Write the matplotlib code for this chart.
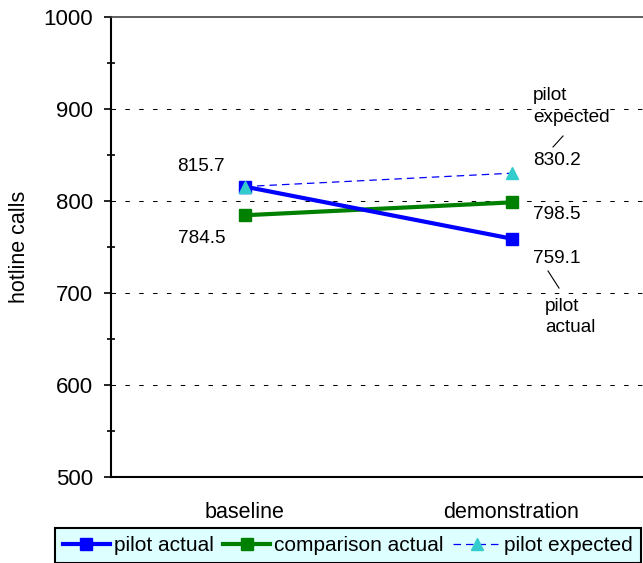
import matplotlib.pyplot as plt
from matplotlib.transforms import offset_copy
from matplotlib.lines import Line2D

plt.rcParams['font.family'] = ['Liberation Sans', 'DejaVu Sans']

periods = ['baseline', 'demonstration']
pilot_actual = [815.7, 759.1]
comparison_actual = [784.5, 798.5]
pilot_expected = [815.7, 830.2]

fig = plt.figure(figsize=(6.43, 5.63), dpi=100)
ax = fig.add_axes([111/643, 86/563, 534/643, 460/563])

xs = [0.5, 1.5]
ax.plot(xs, pilot_expected, color='blue', lw=0.9, dashes=(6, 4),
        marker='^', ms=9, mfc='#33cccc', mec='#33cccc', label='pilot expected', zorder=3)
ax.plot(xs, comparison_actual, color='green', lw=3, marker='s', ms=8,
        mfc='green', mec='green', label='comparison actual', zorder=4)
ax.plot(xs, pilot_actual, color='blue', lw=3, marker='s', ms=8,
        mfc='blue', mec='blue', label='pilot actual', zorder=5)
# triangle drawn over the blue square at baseline
ax.plot(xs[:1], pilot_expected[:1], ls='none', marker='^', ms=9,
        mfc='#33cccc', mec='#33cccc', zorder=6)

ax.set_xlim(0, 2)
ax.set_ylim(500, 1000)
ax.set_yticks(range(500, 1001, 100))
ax.set_yticks(range(550, 1000, 100), minor=True)
ax.set_xticks(xs)
ax.set_xticklabels(periods, fontsize=15.5)
ax.tick_params(axis='x', length=0, pad=18)
ax.tick_params(axis='y', which='major', direction='out', length=5, width=1.2,
               labelsize=16, pad=8)
ax.tick_params(axis='y', which='minor', direction='inout', length=6, width=1.2)

for yv in range(600, 1000, 100):
    ax.axhline(yv, color='black', lw=0.75, dashes=(4.3, 9), zorder=1)

ax.spines['right'].set_visible(False)
ax.spines['left'].set_linewidth(1.5)
ax.spines['bottom'].set_linewidth(1.5)
ax.spines['top'].set_color('#444444')
ax.spines['top'].set_linewidth(1.2)

fig.text(20/643, 1-246.5/563, 'hotline calls', rotation=90, fontsize=15.5,
         ha='center', va='center')

def lab(x, y, s, dx, dy, ha='left'):
    tr = offset_copy(ax.transData, fig=fig, x=dx, y=dy, units='points')
    ax.text(x, y, s, transform=tr, ha=ha, va='center', fontsize=13.7, linespacing=1.35)

def leader(x, y, p0, p1):
    tr0 = offset_copy(ax.transData, fig=fig, x=p0[0], y=p0[1], units='points')
    tr1 = offset_copy(ax.transData, fig=fig, x=p1[0], y=p1[1], units='points')
    a = tr0.transform((x, y))
    b = tr1.transform((x, y))
    fig.add_artist(Line2D([a[0], b[0]], [a[1], b[1]], transform=None,
                          color='black', lw=0.8))

lab(xs[0], pilot_actual[0], f'{pilot_actual[0]:.1f}', -14, 14.1, ha='right')
lab(xs[0], comparison_actual[0], f'{comparison_actual[0]:.1f}', -14, -17, ha='right')
lab(xs[1], pilot_expected[1], f'{pilot_expected[1]:.1f}', 15.5, 9.5)
lab(xs[1], comparison_actual[1], f'{comparison_actual[1]:.1f}', 15.5, -9)
lab(xs[1], pilot_actual[1], f'{pilot_actual[1]:.1f}', 15.5, -14)
lab(xs[1], pilot_expected[1], 'pilot\nexpected', 15.5, 48)
lab(xs[1], pilot_actual[1], 'pilot\nactual', 24.1, -56.4)
leader(xs[1], pilot_expected[1], (29.9, 18.9), (37.1, 26.8))
leader(xs[1], pilot_actual[1], (26.3, -23.3), (34.2, -35.6))

h, l = ax.get_legend_handles_labels()
order = [2, 1, 0]
leg = fig.legend([h[i] for i in order], [l[i] for i in order], ncol=3,
                 loc='upper left', bbox_to_anchor=(55/643, 1-528/563),
                 borderaxespad=0, fontsize=15, frameon=True, fancybox=False,
                 handlelength=2.25, handletextpad=0.2, columnspacing=0.45,
                 borderpad=0.38)
leg.get_frame().set_facecolor('#ddffff')
leg.get_frame().set_edgecolor('black')
leg.get_frame().set_linewidth(1.5)
leg.get_frame().set_alpha(1)

fig.savefig('out.png', dpi=100)
